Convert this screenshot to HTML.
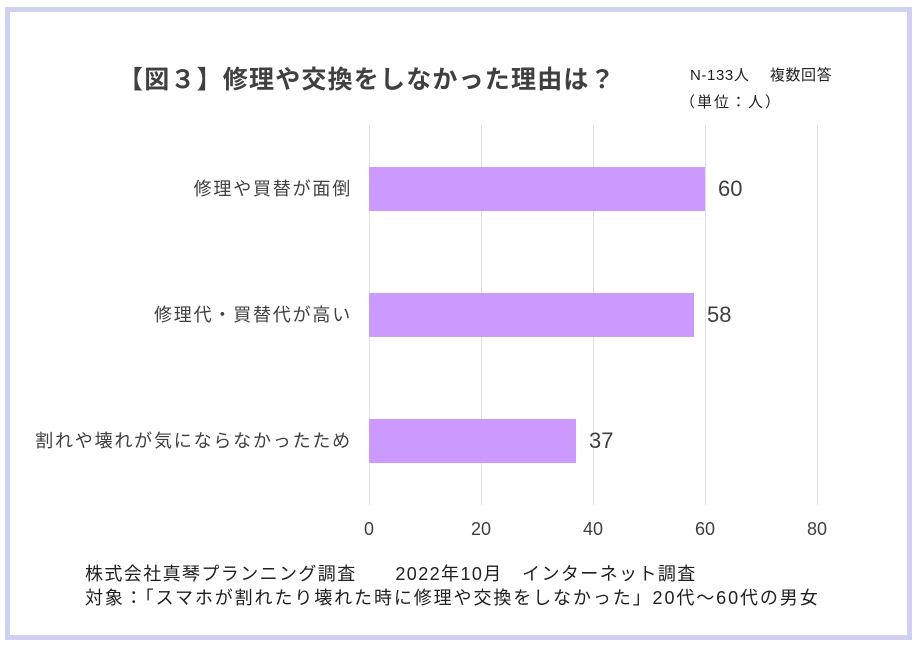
<!DOCTYPE html>
<html><head><meta charset="utf-8"><style>
html,body{margin:0;padding:0;background:#fff;}
body{width:917px;height:647px;position:relative;overflow:hidden;font-family:"Liberation Sans","Noto Sans CJK JP",sans-serif;color:#404040;}
.frame{position:absolute;left:5px;top:7px;width:897px;height:623px;border:5px solid #d0d0f0;}
.t{position:absolute;white-space:nowrap;}
.g{position:absolute;top:125px;height:380px;width:1px;background:#e0e0e0;}
.bar{position:absolute;left:369px;height:44px;background:#cc99ff;}
.c{font-size:18px;letter-spacing:1.8px;}
</style></head><body>
<div class="frame"></div>
<div class="t" style="left:118px;top:60px;font-size:25px;font-weight:bold;color:#404040;letter-spacing:1.2px;">【図３】修理や交換をしなかった理由は？</div>
<div class="t" style="left:690px;top:64px;font-size:15px;color:#202020;letter-spacing:0.6px;">N-133人　 複数回答</div>
<div class="t" style="left:680px;top:91px;font-size:15px;color:#202020;letter-spacing:2px;">（単位：人）</div>
<div class="g" style="left:369px"></div>
<div class="g" style="left:481px"></div>
<div class="g" style="left:593px"></div>
<div class="g" style="left:705px"></div>
<div class="g" style="left:817px"></div>
<div class="bar" style="top:167px;width:336px"></div>
<div class="bar" style="top:293px;width:325px"></div>
<div class="bar" style="top:419px;width:207px"></div>
<div class="t" style="left:718px;top:176px;font-size:22px;">60</div>
<div class="t" style="left:707px;top:302px;font-size:22px;">58</div>
<div class="t" style="left:589px;top:428px;font-size:22px;">37</div>
<div class="t c" style="right:565px;top:175px;">修理や買替が面倒</div>
<div class="t c" style="right:565px;top:301px;">修理代・買替代が高い</div>
<div class="t c" style="right:565px;top:427px;">割れや壊れが気にならなかったため</div>
<div class="t" style="left:364px;top:519px;font-size:18px;">0</div>
<div class="t" style="left:471px;top:519px;font-size:18px;">20</div>
<div class="t" style="left:583px;top:519px;font-size:18px;">40</div>
<div class="t" style="left:695px;top:519px;font-size:18px;">60</div>
<div class="t" style="left:807px;top:519px;font-size:18px;">80</div>
<div class="t" style="left:85px;top:560px;font-size:18px;color:#202020;letter-spacing:1.4px;">株式会社真琴プランニング調査　　2022年10月　インターネット調査</div>
<div class="t" style="left:85px;top:584px;font-size:18px;color:#202020;letter-spacing:1.9px;">対象：「スマホが割れたり壊れた時に修理や交換をしなかった」20代～60代の男女</div>
</body></html>
